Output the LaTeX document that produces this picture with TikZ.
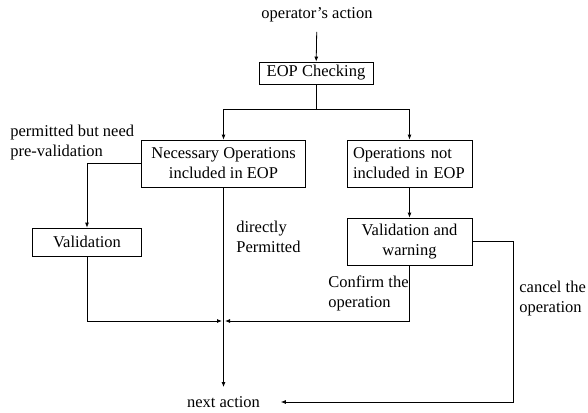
\documentclass[tikz,border=0pt]{standalone}
\usepackage{fontspec}
\setmainfont{Liberation Serif}
\usetikzlibrary{arrows.meta}
\begin{document}
\begin{tikzpicture}[x=1pt, y=-1pt, line width=0.8pt,
    every node/.style={font=\fontsize{16.5}{20}\selectfont},
    box/.style={draw, inner sep=0pt, align=center},
    lbl/.style={inner sep=0pt, align=left, anchor=west},
    arr/.style={-{Latex[length=5pt, width=4pt]}}]
    \useasboundingbox (0,0) rectangle (588,412);

    % Eingang und Pruefung
    \node (opact) at (317,15) {operator's action};
    \node[box, minimum width=114pt, minimum height=22pt] (eop) at (316,73) {EOP Checking};
    \draw[arr, shorten <=6pt] (opact) -- (eop);

    % Verzweigung
    \node[box, minimum width=164pt, minimum height=47pt] (nec) at (223.5,163.5) {Necessary Operations\\included in EOP};
    \node[box, align=left, text width=113pt, minimum width=125pt, minimum height=47pt] (notinc) at (409.5,163.5) {Operations not\\included in EOP};
    \coordinate (split) at (316,109);
    \draw (eop) -- (split);
    \draw[arr] (split) -| (nec);
    \draw[arr] (split) -| (notinc);

    % Validierung
    \node[box, minimum width=109pt, minimum height=28pt] (valid) at (87,242) {Validation};
    \node[box, minimum width=125pt, minimum height=47pt] (valwarn) at (409.5,241.5) {Validation and\\warning};
    \draw[arr] (nec.west) -| (valid);
    \draw[arr] (notinc) -- (valwarn);

    % Ergebnis
    \node[inner sep=3pt] (next) at (223.5,402) {next action};
    \coordinate (merge) at (nec |- 0,321);
    \draw[arr, shorten >=6pt] (nec) -- (next);
    \draw[arr, shorten >=1.5pt] (valid) |- (merge);
    \draw[arr, shorten >=1.5pt] (valwarn) |- (merge);
    \draw[arr, shorten >=17.5pt] (valwarn.east) -- ++(41,0) |- (next);

    % Beschriftungen
    \node[lbl] (permlbl) at (10,143) {permitted but need\\pre-validation};
    \node[lbl] (directlbl) at (236,237) {directly\\Permitted};
    \node[lbl] (confirmlbl) at (328,293) {Confirm the\\operation};
    \node[lbl] (cancellbl) at (519,299) {cancel the\\operation};
\end{tikzpicture}
\end{document}
